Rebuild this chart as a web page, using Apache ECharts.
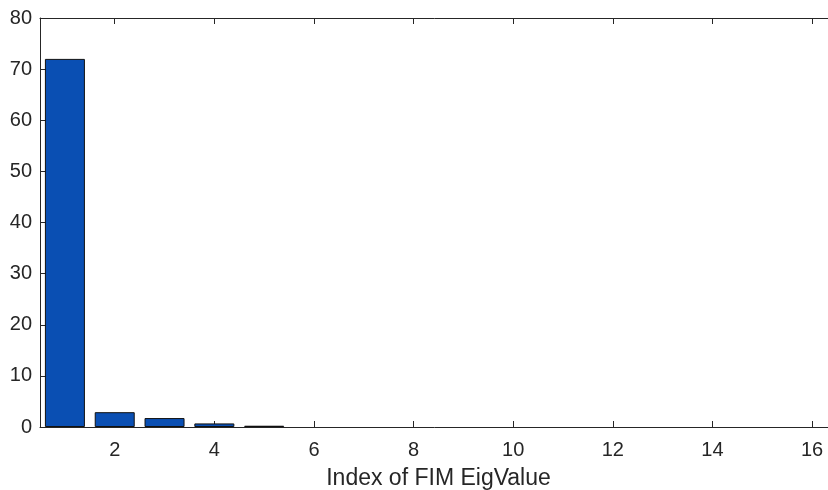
<!DOCTYPE html>
<html>
<head>
<meta charset="utf-8">
<script src="https://cdn.jsdelivr.net/npm/echarts@6/dist/echarts.min.js"></script>
<style>
  html, body { margin: 0; padding: 0; background: #fff; }
  #chart { width: 828px; height: 490px; }
</style>
</head>
<body>
<div id="chart"></div>
<script>
// eigenvalue index and magnitude
const indices = [1, 2, 3, 4, 5, 6, 7, 8, 9, 10, 11, 12, 13, 14, 15, 16]
const eigValues = [72, 2.9, 1.75, 0.7, 0.25, 0, 0, 0, 0, 0, 0, 0, 0, 0, 0, 0]
const xTicks = [2, 4, 6, 8, 10, 12, 14, 16]
const yTicks = [0, 10, 20, 30, 40, 50, 60, 70, 80]

const axisColor = '#262626'
const font = 'Liberation Sans, Arial, sans-serif'

const chart = echarts.init(document.getElementById('chart'), null, { renderer: 'canvas' })

// zero-height bars disappear into the axis line, so drop their outline
const barData = indices.map((x, i) => ({
  value: [x, eigValues[i]],
  itemStyle: eigValues[i] > 0 ? undefined : { borderWidth: 0 }
}))

const option = {
  animation: false,
  backgroundColor: '#fff',
  grid: {
    left: 40,
    right: -9,
    top: 18,
    bottom: 63,
    containLabel: false,
    outerBoundsMode: 'none'
  },
  xAxis: [{
    type: 'value',
    min: 0.5,
    max: 16.5,
    interval: 2,
    name: 'Index of FIM EigValue',
    nameLocation: 'middle',
    nameGap: 40,
    nameTextStyle: { color: axisColor, fontSize: 23, fontFamily: font },
    axisLine: { show: true, onZero: false, lineStyle: { color: axisColor, width: 1 } },
    axisTick: { show: true, inside: true, length: 6, customValues: xTicks, lineStyle: { color: axisColor } },
    axisLabel: {
      color: axisColor, fontSize: 20, fontFamily: font, margin: 13,
      customValues: xTicks
    },
    splitLine: { show: false }
  }, {
    type: 'value',
    position: 'top',
    min: 0.5,
    max: 16.5,
    axisLine: { show: true, onZero: false, lineStyle: { color: axisColor, width: 1 } },
    axisTick: { show: true, inside: true, length: 6, customValues: xTicks, lineStyle: { color: axisColor } },
    axisLabel: { show: false },
    splitLine: { show: false }
  }],
  yAxis: [{
    type: 'value',
    min: 0,
    max: 80,
    interval: 10,
    axisLine: { show: true, lineStyle: { color: axisColor, width: 1 } },
    axisTick: { show: true, inside: true, length: 6, customValues: yTicks, lineStyle: { color: axisColor } },
    axisLabel: { color: axisColor, fontSize: 20, fontFamily: font, margin: 8, customValues: yTicks },
    splitLine: { show: false }
  }, {
    type: 'value',
    position: 'right',
    min: 0,
    max: 80,
    interval: 10,
    axisLine: { show: true, lineStyle: { color: axisColor, width: 1 } },
    axisTick: { show: true, inside: true, length: 6 },
    axisLabel: { show: false },
    splitLine: { show: false }
  }],
  series: [{
    type: 'bar',
    xAxisIndex: 0,
    yAxisIndex: 0,
    barWidth: 40,
    data: barData,
    itemStyle: {
      color: '#0a4fb3',
      borderColor: '#111',
      borderWidth: 1
    }
  }]
}

chart.setOption(option)
</script>
</body>
</html>
